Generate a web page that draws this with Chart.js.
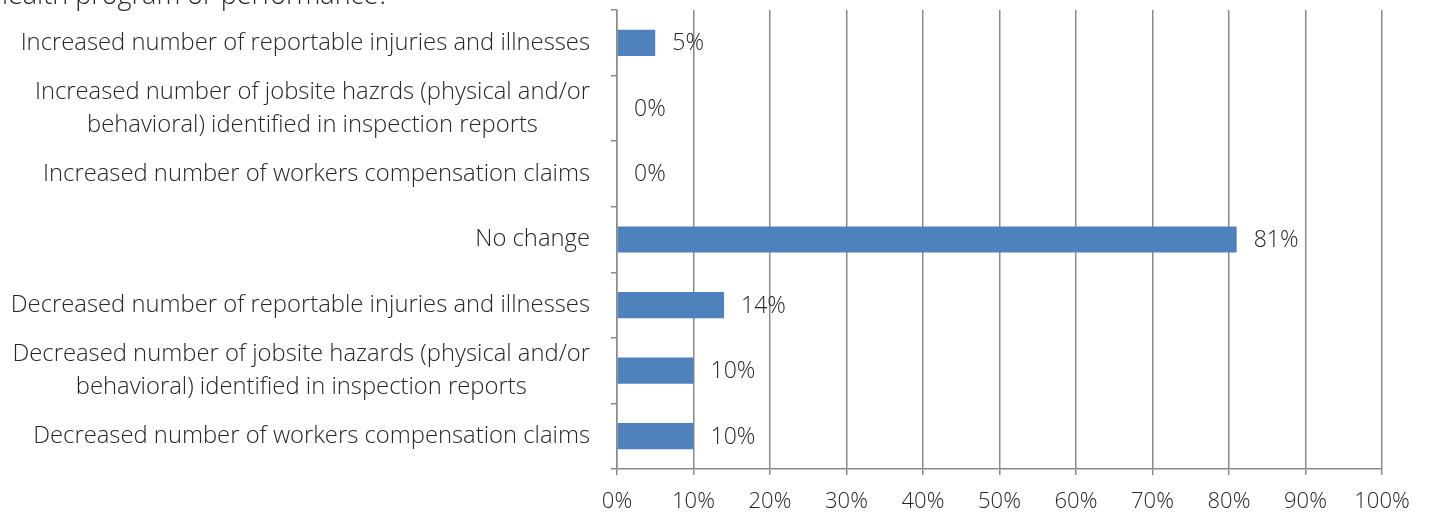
<!DOCTYPE html>
<html><head><meta charset="utf-8">
<script src="https://cdn.jsdelivr.net/npm/chart.js@4.4.1/dist/chart.umd.min.js"></script>
<style>html,body{margin:0;padding:0;background:#fff;overflow:hidden}#wrap{width:1430px;height:516px;position:relative}</style>
</head><body><div id="wrap"><canvas id="c" width="1430" height="516"></canvas></div>
<script>
const titleText = "health program or performance?";
const categories = [
  ["Increased number of reportable injuries and illnesses"],
  ["Increased number of jobsite hazrds (physical and/or", "behavioral) identified in inspection reports"],
  ["Increased number of workers compensation claims"],
  ["No change"],
  ["Decreased number of reportable injuries and illnesses"],
  ["Decreased number of jobsite hazards (physical and/or", "behavioral) identified in inspection reports"],
  ["Decreased number of workers compensation claims"]
];
const values = [5, 0, 0, 81, 14, 10, 10];
const xTickLabels = ["0%","10%","20%","30%","40%","50%","60%","70%","80%","90%","100%"];

const FONT_FAMILY = "'Open Sans', sans-serif";
const TEXT = "#262626";
const GRID = "#8a8a8a";

const textPlugin = {
  id: 'customText',
  afterDraw(chart) {
    const ctx = chart.ctx, ys = chart.scales.y, area = chart.chartArea;
    ctx.save();
    ctx.fillStyle = TEXT;
    ctx.font = "300 27px " + FONT_FAMILY;
    ctx.textAlign = 'left'; ctx.textBaseline = 'alphabetic';
    ctx.fillText(titleText, -8, 4);
    ctx.font = "300 23.8px " + FONT_FAMILY;
    ctx.textBaseline = 'middle'; ctx.textAlign = 'center';
    const rightEdge = area.left - 27;
    categories.forEach((lines, i) => {
      const cy = ys.getPixelForValue(i);
      const w = Math.max(...lines.map(l => ctx.measureText(l).width));
      const cx = rightEdge - w / 2;
      lines.forEach((l, j) => ctx.fillText(l, cx, cy + (j - (lines.length - 1) / 2) * 33));
    });
    ctx.font = "300 23px " + FONT_FAMILY;
    ctx.textAlign = 'left';
    const meta = chart.getDatasetMeta(0);
    meta.data.forEach((bar, i) => ctx.fillText(values[i] + '%', bar.x + 17, bar.y + 1));
    ctx.restore();
  }
};

new Chart(document.getElementById('c'), {
  type: 'bar',
  data: {
    labels: categories.map(l => l.join(' ')),
    datasets: [{ data: values, backgroundColor: '#4f81bd', barPercentage: 0.4, categoryPercentage: 1.0 }]
  },
  options: {
    indexAxis: 'y',
    responsive: false,
    animation: false,
    devicePixelRatio: 1,
    layout: { padding: { left: 0, right: 48, top: 10, bottom: 0 } },
    plugins: { legend: { display: false }, tooltip: { enabled: false }, title: { display: false } },
    scales: {
      x: {
        min: 0, max: 100,
        ticks: { stepSize: 10, color: TEXT, font: { family: FONT_FAMILY, size: 22, weight: '300' }, padding: 14,
                 callback: (v, i) => xTickLabels[i] },
        grid: { color: GRID, lineWidth: 1.5, tickLength: 6, drawTicks: true },
        border: { color: GRID, width: 1.5 },
        afterFit: s => { s.height = 47; }
      },
      y: {
        ticks: { display: false },
        grid: { drawOnChartArea: false, color: GRID, lineWidth: 1.5, tickLength: 6, offset: true },
        border: { color: GRID, width: 1.5 },
        afterFit: s => { s.width = 617; }
      }
    }
  },
  plugins: [textPlugin]
});
</script></body></html>
